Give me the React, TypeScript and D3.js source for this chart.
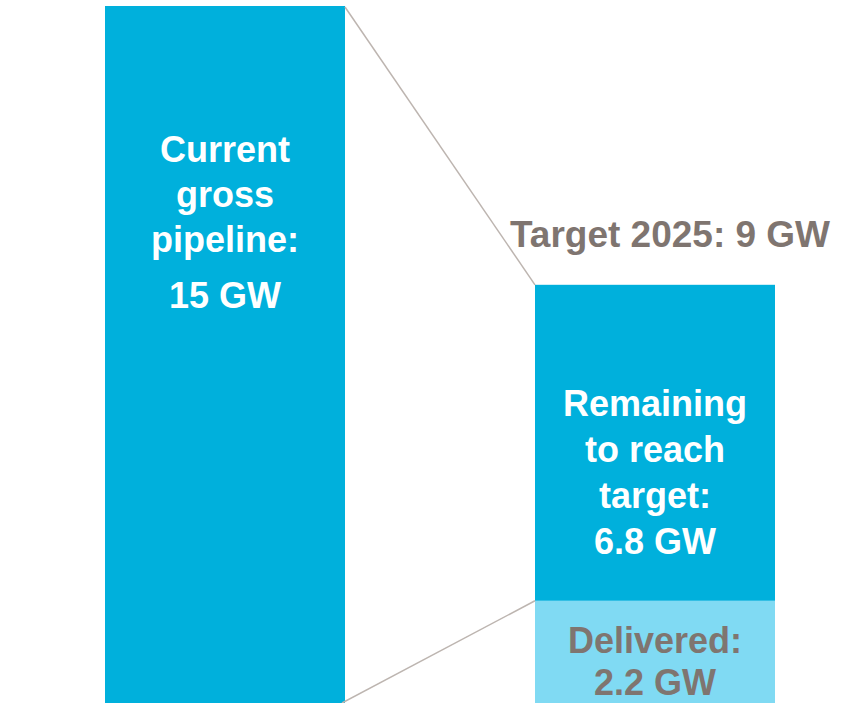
import React from "react";
import * as d3 from "d3";

// categories and values (GW)
const categories = ["pipeline", "target"];
const pipelineValue = 15;
const targetValue = 9;
const deliveredValue = 2.2;
const remainingValue = 6.8;

const pipelineLabel = ["Current", "gross", "pipeline:"];
const pipelineValueLabel = "15 GW";
const remainingLabel = ["Remaining", "to reach", "target:", "6.8 GW"];
const deliveredLabel = ["Delivered:", "2.2 GW"];
const targetLabel = "Target 2025: 9 GW";

const BLUE = "#00b0dc";
const LIGHT_BLUE = "#80daf3";
const GREY_TEXT = "#7f7570";
const CONNECTOR = "#bdb5b0";
const FONT = "'Liberation Sans', Arial, sans-serif";

const App: React.FC = () => {
    const width = 860;
    const height = 703;

    const x = d3
        .scaleBand<string>()
        .domain(categories)
        .range([105, 775])
        .paddingInner(190 / 430)
        .paddingOuter(0);

    const y = d3.scaleLinear().domain([0, pipelineValue]).range([703, 6]);

    const bw = x.bandwidth();
    const x1 = x("pipeline") as number;
    const x2 = x("target") as number;

    // stacked target bar: delivered at bottom, remaining on top
    const stack = [
        { key: "delivered", y0: 0, y1: deliveredValue, fill: LIGHT_BLUE },
        { key: "remaining", y0: deliveredValue, y1: deliveredValue + remainingValue, fill: BLUE },
    ];

    const fs = 36;

    return (
        <svg
            width={width}
            height={height}
            style={{ position: "absolute", left: 0, top: 0, display: "block" }}
            fontFamily={FONT}
            fontWeight="bold"
        >
            <rect x={0} y={0} width={width} height={height} fill="#fff" />

            {/* left bar */}
            <rect x={x1} y={y(pipelineValue)} width={bw} height={y(0) - y(pipelineValue)} fill={BLUE} />

            {/* right stacked bar */}
            {stack.map((s) => (
                <rect
                    key={s.key}
                    x={x2}
                    y={y(s.y1)}
                    width={bw}
                    height={y(s.y0) - y(s.y1)}
                    fill={s.fill}
                />
            ))}

            {/* connector lines */}
            <line
                x1={x1 + bw}
                y1={y(pipelineValue) + 1}
                x2={x2}
                y2={y(targetValue)}
                stroke={CONNECTOR}
                strokeWidth={1.5}
            />
            <line
                x1={x1 + bw - 3}
                y1={y(0)}
                x2={x2}
                y2={y(deliveredValue)}
                stroke={CONNECTOR}
                strokeWidth={1.5}
            />

            {/* left bar label */}
            <g textAnchor="middle" fill="#fff" fontSize={fs}>
                {pipelineLabel.map((t, i) => (
                    <text key={t} x={x1 + bw / 2} y={y(pipelineValue) + 156 + i * 45}>
                        {t}
                    </text>
                ))}
                <text x={x1 + bw / 2} y={y(pipelineValue) + 302}>
                    {pipelineValueLabel}
                </text>
            </g>

            {/* remaining label */}
            <g textAnchor="middle" fill="#fff" fontSize={fs}>
                {remainingLabel.map((t, i) => (
                    <text key={t} x={x2 + bw / 2} y={y(targetValue) + 131 + i * 46}>
                        {t}
                    </text>
                ))}
            </g>

            {/* delivered label */}
            <g textAnchor="middle" fill={GREY_TEXT} fontSize={fs}>
                {deliveredLabel.map((t, i) => (
                    <text key={t} x={x2 + bw / 2} y={y(deliveredValue) + 52 + i * 42}>
                        {t}
                    </text>
                ))}
            </g>

            {/* target label */}
            <text
                x={670}
                y={y(targetValue) - 38}
                textAnchor="middle"
                fill={GREY_TEXT}
                fontSize={37}
            >
                {targetLabel}
            </text>
        </svg>
    );
};

export default App;
